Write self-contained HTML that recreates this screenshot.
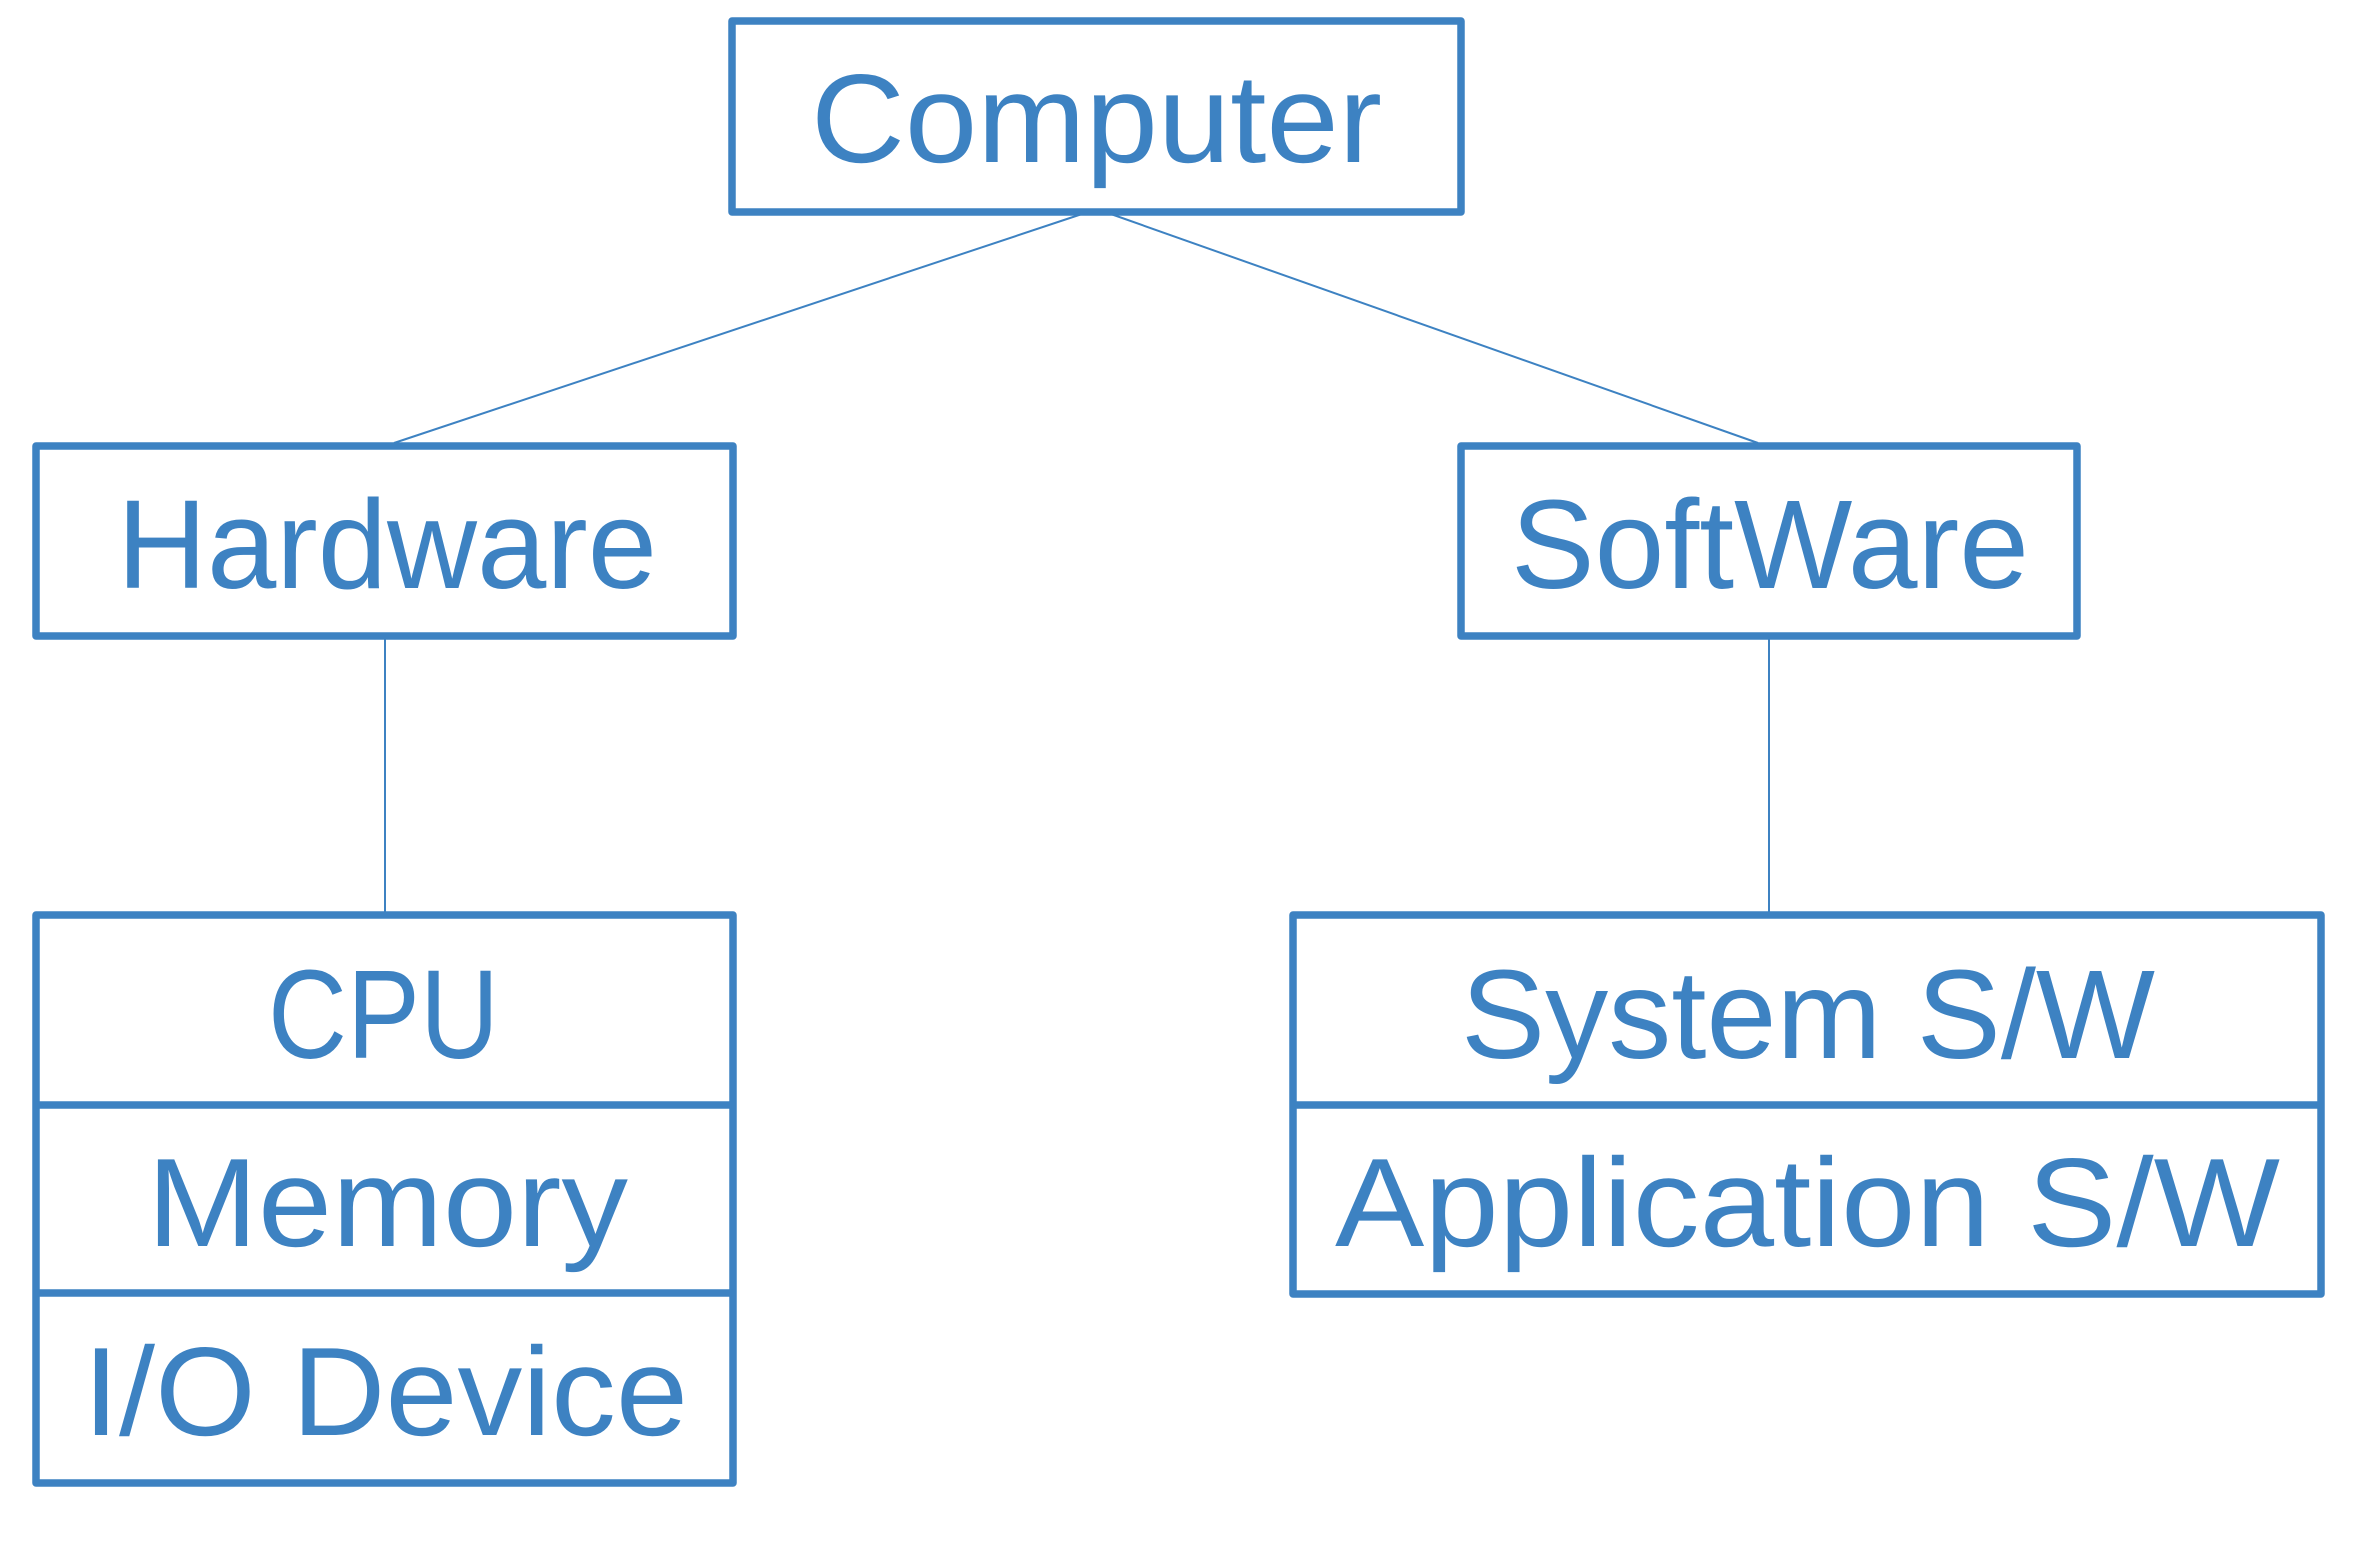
<!DOCTYPE html>
<html><head><meta charset="utf-8"><style>html,body{margin:0;padding:0;background:#fff}svg{display:block}</style></head>
<body>
<svg width="2357" height="1543" viewBox="0 0 2357 1543" xmlns="http://www.w3.org/2000/svg">
<g stroke="#3d82c2" fill="none">
<line x1="1085" y1="213" x2="394" y2="443" stroke-width="2"/>
<line x1="1108" y1="213" x2="1758" y2="443" stroke-width="2"/>
<line x1="385" y1="636" x2="385" y2="915" stroke-width="2"/>
<line x1="1769" y1="636" x2="1769" y2="915" stroke-width="2"/>
<g stroke-width="7.5" stroke-linejoin="round">
<rect x="732" y="21" width="729" height="191"/>
<rect x="36" y="446" width="697" height="190"/>
<rect x="1461" y="446" width="616" height="190"/>
<rect x="36" y="915" width="697" height="568"/>
<line x1="36" y1="1105" x2="733" y2="1105"/>
<line x1="36" y1="1293" x2="733" y2="1293"/>
<rect x="1293" y="915" width="1028" height="379"/>
<line x1="1293" y1="1105" x2="2321" y2="1105"/>
</g>
</g>
<g fill="#3d82c2" font-family="Liberation Sans, sans-serif" font-size="126" lengthAdjust="spacingAndGlyphs">
<text x="811" y="162" textLength="571" lengthAdjust="spacingAndGlyphs">Computer</text>
<text x="117" y="588" textLength="540" lengthAdjust="spacingAndGlyphs">Hardware</text>
<text x="1511" y="588" textLength="518" lengthAdjust="spacingAndGlyphs">SoftWare</text>
<text x="268" y="1058" textLength="231" lengthAdjust="spacingAndGlyphs">CPU</text>
<text x="147" y="1246" textLength="481" lengthAdjust="spacingAndGlyphs">Memory</text>
<text x="83" y="1435" textLength="605" lengthAdjust="spacingAndGlyphs">I/O Device</text>
<text x="1461" y="1058" textLength="694" lengthAdjust="spacingAndGlyphs">System S/W</text>
<text x="1335" y="1246" textLength="945" lengthAdjust="spacingAndGlyphs">Application S/W</text>
</g>
</svg>
</body></html>
